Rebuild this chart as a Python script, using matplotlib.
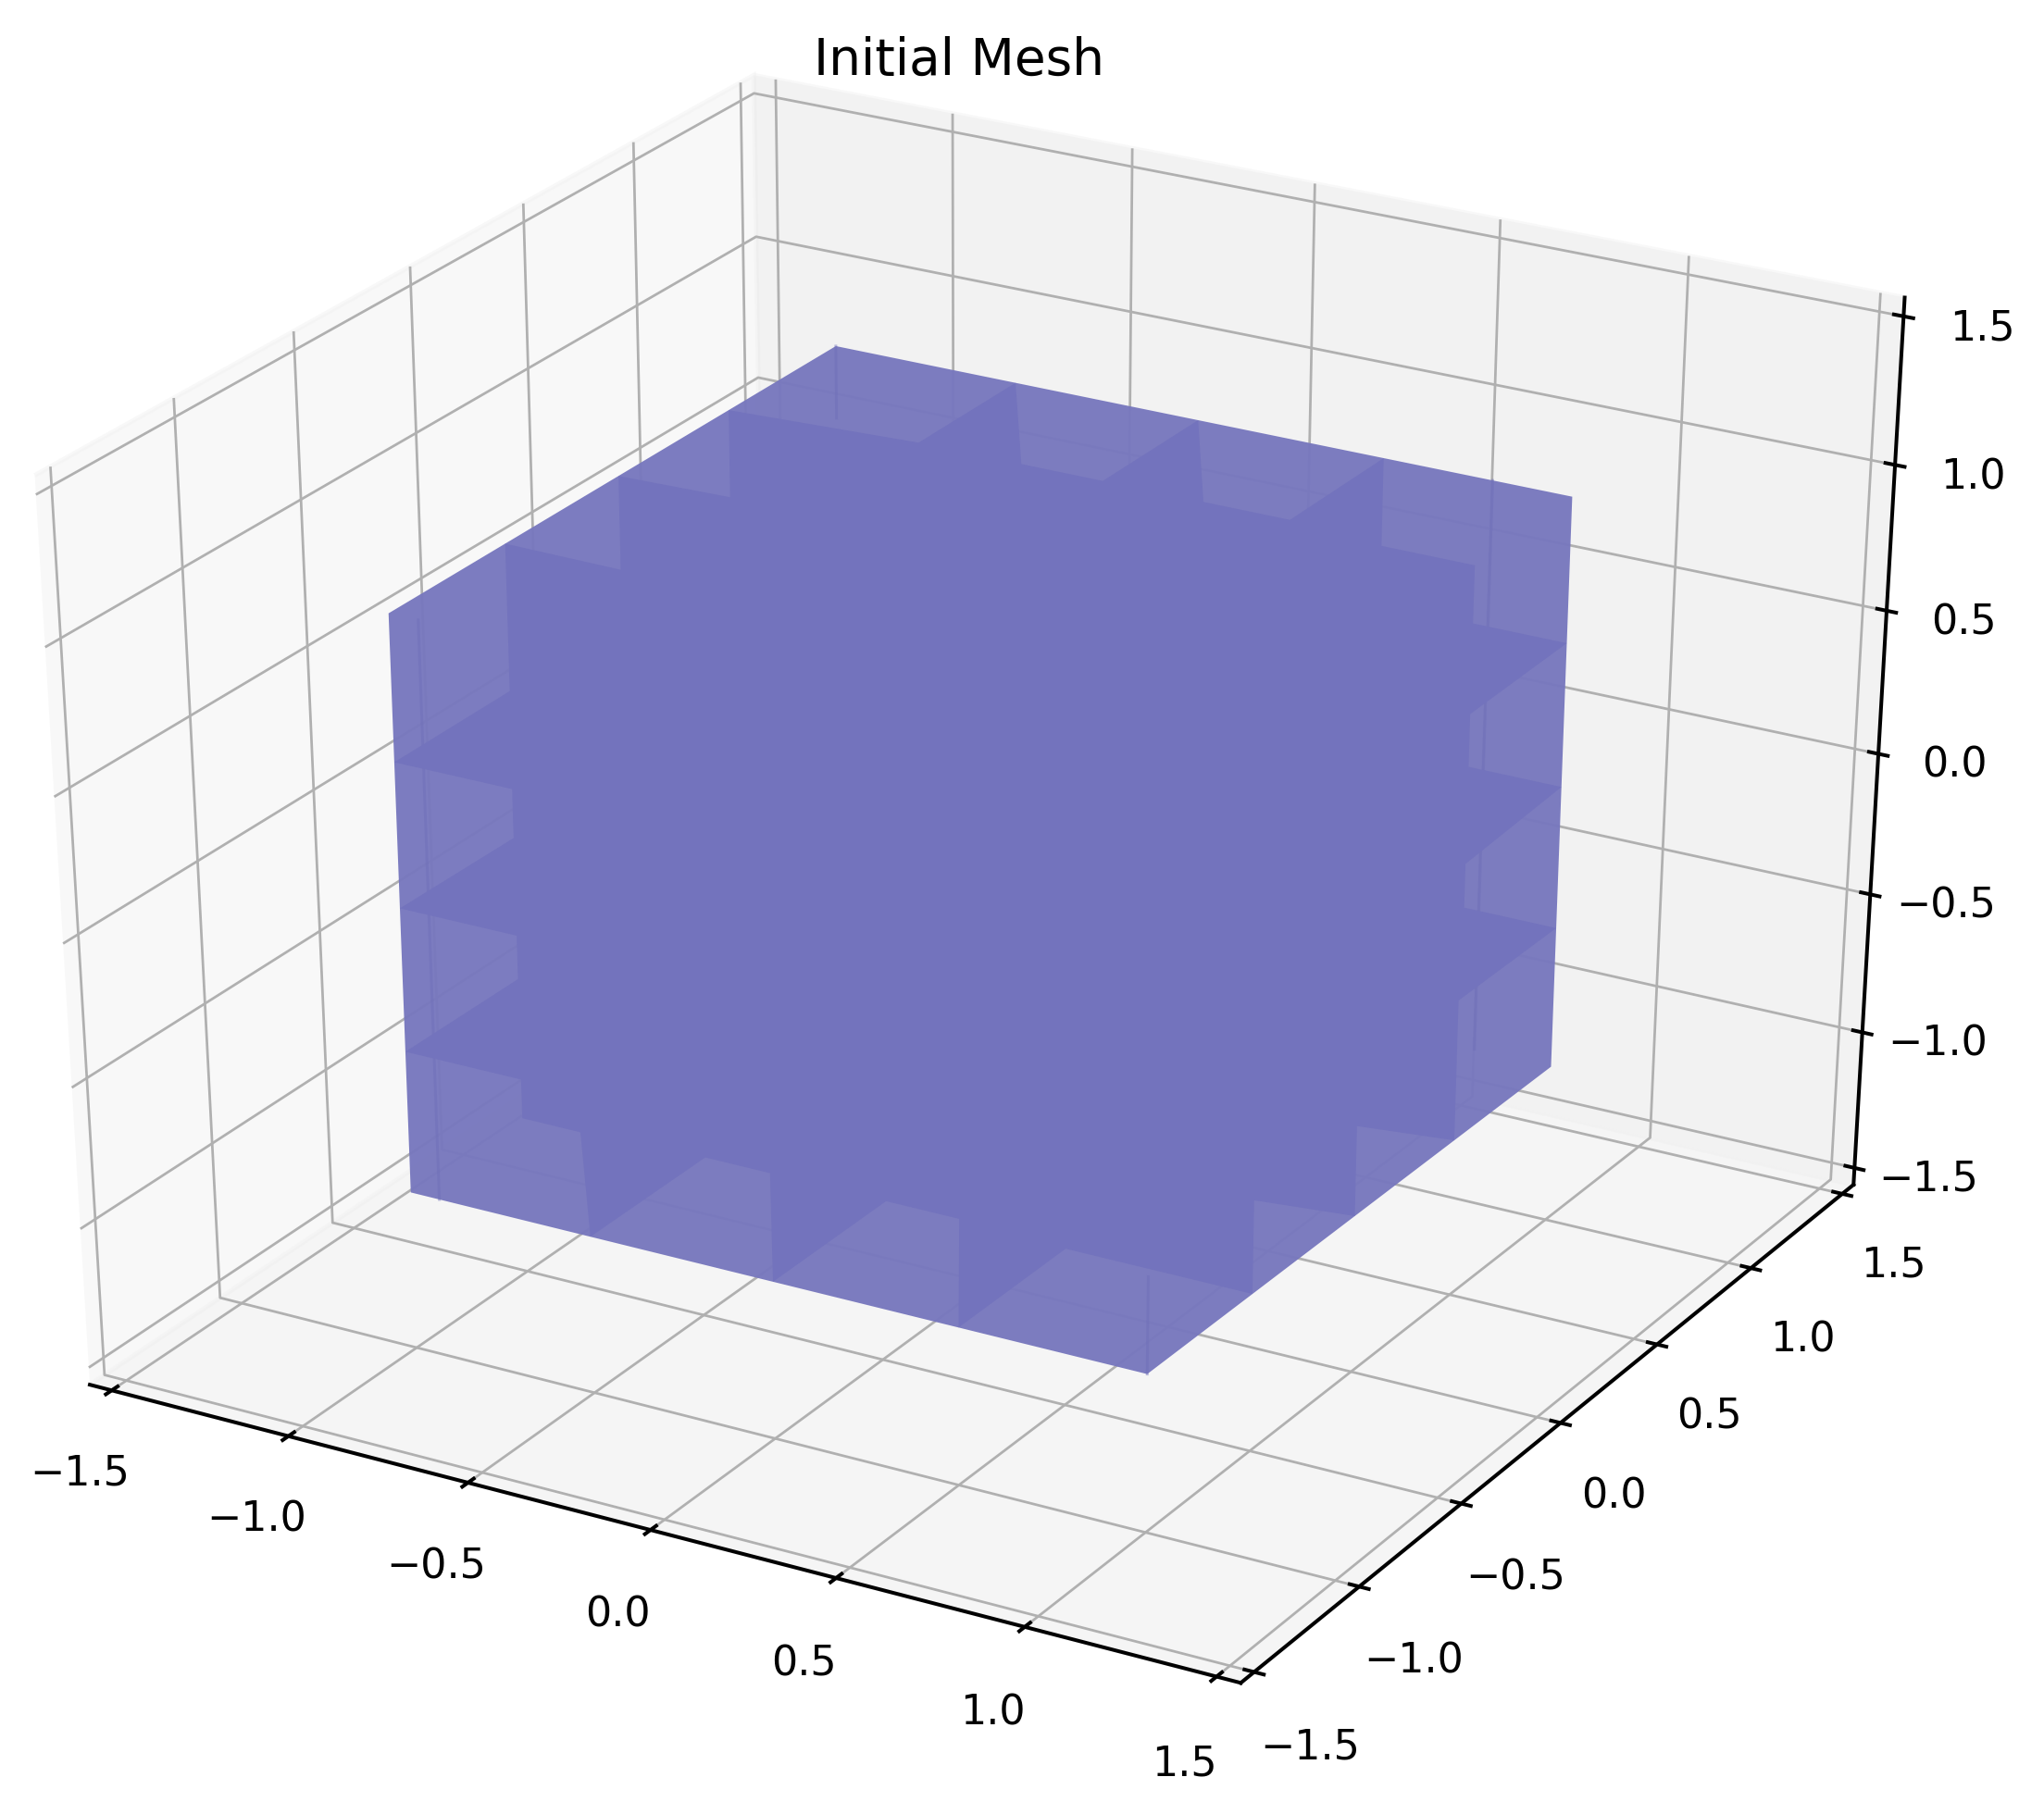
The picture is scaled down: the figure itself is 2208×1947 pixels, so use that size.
import numpy as np
import matplotlib
matplotlib.use("Agg")
import matplotlib.pyplot as plt
from mpl_toolkits.mplot3d.art3d import Poly3DCollection

TITLE = "Initial Mesh"
AXIS_LIMITS = (-1.5, 1.5)
TICKS = [-1.5, -1.0, -0.5, 0.0, 0.5, 1.0, 1.5]

# silhouette of the cube mesh
outer_x = [-1, 1, 1, 1, -1, -1]
outer_y = [1, 1, 1, -1, -1, -1]
outer_z = [1, 1, -1, -1, -1, 1]

# outline of the region where many mesh layers overlap
dense_x = [-0.5, -0.5, -1, -1, -1, -1, -1, -1, -1, -1,
           -0.68, -0.68, -1, -0.68, -0.68, -1, -0.68, -0.68, -0.52, -0.5,
           -0.5, -0.32, 0, 0, 0.2, 0.5, 0.5, 1, 1, 1,
           1, 1, 1, 1, 0.75, 0.75, 1, 0.75, 0.75, 1,
           0.75, 0.75, 0.5, 0.5, 0.5, 0.27, 0, 0, -0.22]
dense_y = [1, 0.54, 0.5, 0.5, 0, 0, -0.5, -0.5, -1, -1,
           -1, -1, -1, -1, -1, -1, -1, -1, -1, -1,
           -0.48, -0.48, -1, -0.48, -0.48, -1, -0.5, -0.5, -0.5, 0,
           0, 0.5, 0.5, 1, 1, 1, 1, 1, 1, 1,
           1, 1, 1, 1, 0.54, 0.54, 1, 0.54, 0.54]
dense_z = [1, 1, 1, 0.7, 1, 0.68, 1, 0.5, 0.5, 0.5,
           0.5, 0.334, 0, 0, -0.15, -0.5, -0.5, -0.636, -0.636, -1,
           -1, -1, -1, -1, -1, -1, -1, -1, -0.67, -1,
           -0.68, -1, -0.5, -0.5, -0.5, -0.344, 0, 0, 0.185, 0.5,
           0.5, 0.7, 0.7, 1, 1, 1, 1, 1, 1]

# faint inner mesh edges that show through the thin parts
edge_left_x = [-0.92, -0.92]
edge_left_y = [-1, -1]
edge_left_z = [1, -1]
edge_right_x = [0.79, 0.79]
edge_right_y = [1, 1]
edge_right_z = [1, -1]
edge_back_x = [-1, -1]
edge_back_y = [1, 1]
edge_back_z = [1, 0.75]
edge_front_x = [1, 1]
edge_front_y = [-1, -1]
edge_front_z = [-1, -0.66]

fig = plt.figure(figsize=(2208 / 360, 1947 / 360), dpi=360)
rect = [-0.045, 0.0627, 1.0285, 0.91]
ax = fig.add_axes(rect, projection="3d", computed_zorder=False)
ax.set_box_aspect((1, 1, 1), zoom=1.0625)
ax.view_init(elev=30, azim=-60)
# the 3D view fills the whole (non-square) axes rectangle
ax.apply_aspect = lambda position=None: None
ax.set_position(rect)

ax.add_collection3d(Poly3DCollection([list(zip(outer_x, outer_y, outer_z))],
                                     facecolor="#7878be", edgecolor="none", alpha=0.97, zorder=1))
for ex, ey, ez in [(edge_left_x, edge_left_y, edge_left_z),
                   (edge_right_x, edge_right_y, edge_right_z),
                   (edge_back_x, edge_back_y, edge_back_z),
                   (edge_front_x, edge_front_y, edge_front_z)]:
    ax.plot(ex, ey, ez, color="#6e6eb8", alpha=0.45, lw=0.6, zorder=2)
ax.add_collection3d(Poly3DCollection([list(zip(dense_x, dense_y, dense_z))],
                                     facecolor="#7373bd", edgecolor="none", alpha=1.0, zorder=3))

ax.set_xlim(*AXIS_LIMITS, view_margin=1 / 48)
ax.set_ylim(*AXIS_LIMITS, view_margin=1 / 48)
ax.set_zlim(*AXIS_LIMITS, view_margin=1 / 48)
ax.set_xticks(TICKS)
ax.set_yticks(TICKS)
ax.set_zticks(TICKS)
ax.tick_params(labelsize=8.9)
ax.tick_params(axis="x", pad=1.9)
ax.tick_params(axis="y", pad=1.8)
ax.tick_params(axis="z", pad=1.2)
for axis in (ax.xaxis, ax.yaxis, ax.zaxis):
    axis.pane.set_edgecolor((0.95, 0.95, 0.95, 0.5))
    axis._axinfo["grid"]["linewidth"] = 0.55
    axis._axinfo["tick"]["inward_factor"] = 0.1
ax.set_title(TITLE, fontsize=11.0, y=1.07, pad=0)
fig.savefig("out.png", dpi=360)
